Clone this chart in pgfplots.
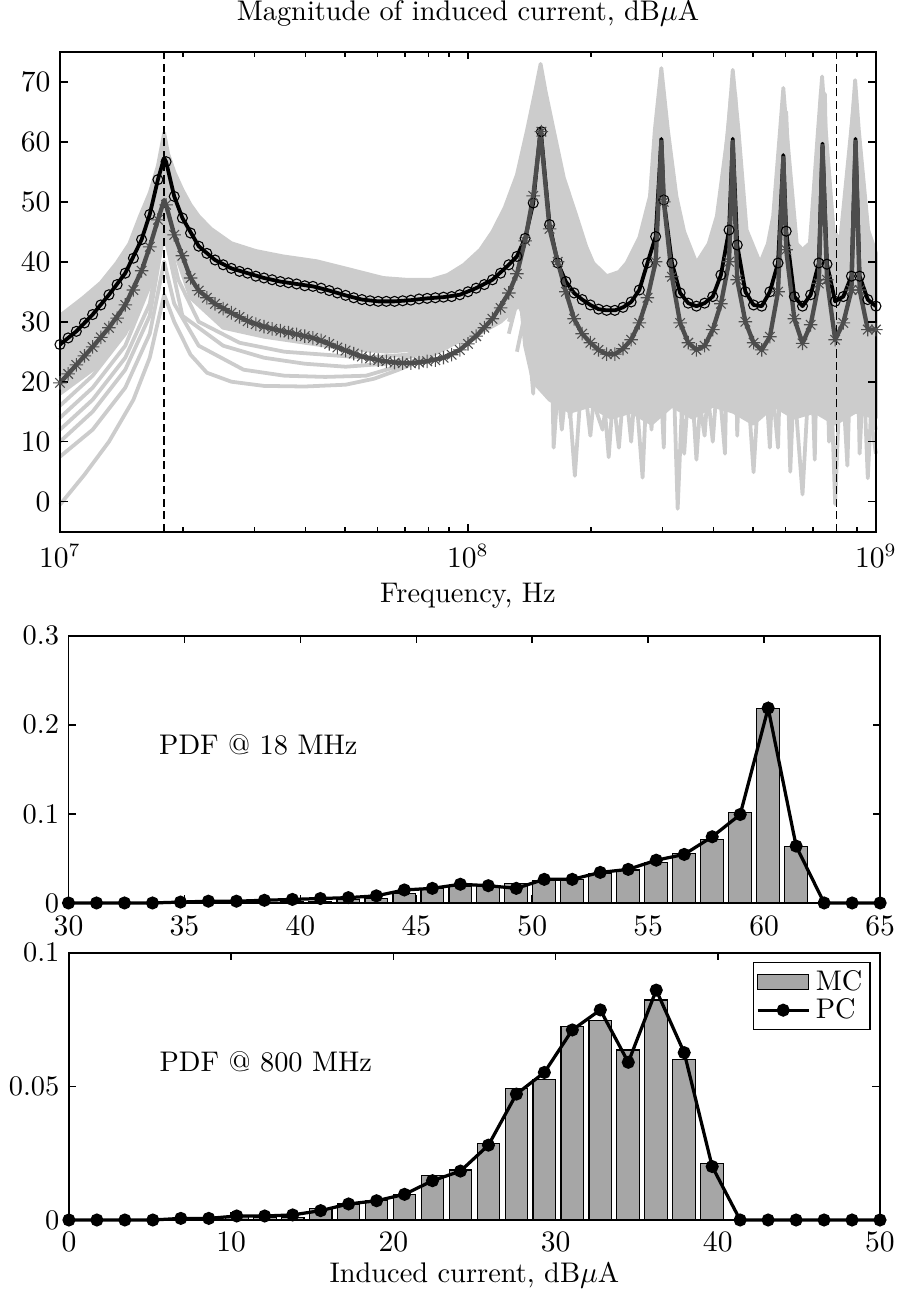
\documentclass[border=0pt]{standalone}
\usepackage{pgfplots}
\pgfplotsset{compat=1.18}
\usepackage{pgfplotstable}
\definecolor{mcgray}{RGB}{204,204,204}
\definecolor{dgray}{RGB}{77,77,77}
\definecolor{bargray}{RGB}{166,166,166}
\newcommand{\ff}{\fontsize{10.5}{12.6}\selectfont}
\pgfdeclareplotmark{mstar}{%
  \pgfpathmoveto{\pgfqpoint{-\pgfplotmarksize}{0pt}}\pgfpathlineto{\pgfqpoint{\pgfplotmarksize}{0pt}}%
  \pgfpathmoveto{\pgfqpoint{0pt}{-\pgfplotmarksize}}\pgfpathlineto{\pgfqpoint{0pt}{\pgfplotmarksize}}%
  \pgfpathmoveto{\pgfqpoint{-0.7071\pgfplotmarksize}{-0.7071\pgfplotmarksize}}\pgfpathlineto{\pgfqpoint{0.7071\pgfplotmarksize}{0.7071\pgfplotmarksize}}%
  \pgfpathmoveto{\pgfqpoint{-0.7071\pgfplotmarksize}{0.7071\pgfplotmarksize}}\pgfpathlineto{\pgfqpoint{0.7071\pgfplotmarksize}{-0.7071\pgfplotmarksize}}%
  \pgfusepathqstroke}
\pgfplotsset{mystyle/.style={scale only axis, tick align=inside,
  axis line style={line width=0.7pt}, every tick/.style={black,line width=0.6pt},
  major tick length=2.8pt, minor tick length=1.8pt, clip=false,
  font=\ff, tick label style={font=\ff}, label style={font=\ff}, title style={font=\ff}},
  gcurve/.style={mcgray, line width=1.4pt, line join=round, no marks},
  mclegend/.style={legend image code/.code={\draw[fill=bargray, draw=black, line width=0.4pt] (0pt,-2.7pt) rectangle (19pt,2.7pt);}},
  pclegend/.style={legend image code/.code={\draw[black, line width=1.2pt] (0pt,0pt) -- (19pt,0pt); \fill[black] (9.5pt,0pt) circle (1.8pt);}}}

% black (circle) markers: x = log10(f)
\pgfplotstableread{
x y
7.00 26.2
7.02 27.3
7.04 28.4
7.06 29.8
7.08 31.2
7.10 32.8
7.12 34.5
7.14 36.2
7.16 38.1
7.18 40.6
7.20 43.7
7.22 47.9
7.24 53.7
7.26 56.7
7.28 50.9
7.30 47.3
7.32 44.8
7.34 42.6
7.36 41.4
7.38 40.3
7.40 39.5
7.42 38.9
7.44 38.4
7.46 38.1
7.48 37.6
7.50 37.3
7.52 37.0
7.54 36.7
7.56 36.5
7.58 36.3
7.60 36.0
7.62 35.9
7.64 35.6
7.66 35.2
7.68 34.8
7.70 34.4
7.72 34.0
7.74 33.7
7.76 33.5
7.78 33.4
7.80 33.4
7.82 33.4
7.84 33.5
7.86 33.6
7.88 33.8
7.90 33.9
7.92 34.0
7.94 34.1
7.96 34.2
7.98 34.5
8.00 35.0
8.02 35.6
8.04 36.2
8.06 37.0
8.08 38.1
8.10 39.5
8.12 40.9
8.14 43.9
8.16 49.8
8.18 61.7
8.20 46.2
8.22 39.8
8.24 36.7
8.26 34.8
8.28 33.7
8.30 32.8
8.32 32.1
8.34 31.9
8.36 31.9
8.38 32.4
8.40 33.3
8.42 35.3
8.44 39.8
8.46 44.2
8.48 50.3
8.50 39.8
8.52 34.8
8.54 33.1
8.56 32.6
8.58 33.1
8.60 34.2
8.62 37.8
8.64 45.3
8.66 42.8
8.68 35.0
8.70 32.8
8.72 32.6
8.74 35.0
8.76 39.8
8.78 45.1
8.80 34.2
8.82 32.6
8.84 34.5
8.86 39.8
8.88 39.6
8.90 33.4
8.92 34.2
8.94 37.6
8.96 37.6
8.98 33.7
9.00 32.6
}\blackmk

% black line (markers plus resonance tips)
\pgfplotstableread{
x y
7.00 26.2
7.04 28.4
7.08 31.2
7.12 34.5
7.16 38.1
7.20 43.7
7.22 47.9
7.24 53.7
7.2553 57.3
7.26 56.7
7.28 50.9
7.30 47.3
7.34 42.6
7.38 40.3
7.42 38.9
7.46 38.1
7.50 37.3
7.54 36.7
7.58 36.3
7.62 35.9
7.66 35.2
7.70 34.4
7.74 33.7
7.78 33.4
7.82 33.4
7.86 33.6
7.90 33.9
7.94 34.1
7.98 34.5
8.02 35.6
8.06 37.0
8.10 39.5
8.12 40.9
8.14 43.9
8.16 49.8
8.178 62.2
8.20 46.2
8.22 39.8
8.24 36.7
8.26 34.8
8.28 33.7
8.30 32.8
8.32 32.1
8.34 31.9
8.36 31.9
8.38 32.4
8.40 33.3
8.42 35.3
8.44 39.8
8.46 44.2
8.474 60.5
8.48 50.3
8.50 39.8
8.52 34.8
8.54 33.1
8.56 32.6
8.58 33.1
8.60 34.2
8.62 37.8
8.64 45.3
8.649 60.5
8.66 42.8
8.68 35.0
8.70 32.8
8.72 32.6
8.74 35.0
8.76 39.8
8.773 57.8
8.78 45.1
8.80 34.2
8.82 32.6
8.84 34.5
8.86 39.8
8.869 59.7
8.88 39.6
8.90 33.4
8.92 34.2
8.94 37.6
8.95 60.5
8.96 37.6
8.98 33.7
9.00 32.6
}\blackln

% dark grey (asterisk) markers
\pgfplotstableread{
x y
7.00 19.8
7.02 21.3
7.04 22.8
7.06 24.3
7.08 25.8
7.10 27.4
7.12 29.0
7.14 30.6
7.16 32.8
7.18 35.3
7.20 38.5
7.22 42.5
7.24 47.0
7.26 49.5
7.28 44.5
7.30 41.0
7.32 37.3
7.34 35.2
7.36 34.0
7.38 33.0
7.40 32.2
7.42 31.5
7.44 30.8
7.46 30.1
7.48 29.6
7.50 29.2
7.52 28.8
7.54 28.5
7.56 28.2
7.58 27.9
7.60 27.6
7.62 27.3
7.64 26.9
7.66 26.3
7.68 25.7
7.70 25.2
7.72 24.7
7.74 24.2
7.76 23.9
7.78 23.6
7.80 23.4
7.82 23.2
7.84 23.1
7.86 23.1
7.88 23.2
7.90 23.4
7.92 23.6
7.94 24.0
7.96 24.5
7.98 25.3
8.00 26.3
8.02 27.6
8.04 29.0
8.06 30.5
8.08 32.3
8.10 34.8
8.12 38.0
8.14 43.5
8.16 51.0
8.18 61.7
8.20 45.5
8.22 40.0
8.24 35.0
8.26 30.5
8.28 28.0
8.30 26.5
8.32 25.3
8.34 24.6
8.36 24.6
8.38 25.5
8.40 27.0
8.42 29.8
8.44 34.0
8.46 40.0
8.48 50.0
8.50 37.5
8.52 29.8
8.54 26.5
8.56 25.3
8.58 26.0
8.60 28.7
8.62 33.0
8.64 40.0
8.66 37.0
8.68 30.0
8.70 26.5
8.72 25.3
8.74 27.5
8.76 35.0
8.78 42.0
8.80 30.5
8.82 26.4
8.84 29.5
8.86 36.4
8.88 37.0
8.90 27.0
8.92 29.8
8.94 35.3
8.96 35.3
8.98 28.7
9.00 28.7
}\dgraymk

\pgfplotstableread{
x y
7.00 19.8
7.04 22.8
7.08 25.8
7.12 29.0
7.16 32.8
7.20 38.5
7.22 42.5
7.24 47.0
7.2553 50.3
7.26 49.5
7.28 44.5
7.30 41.0
7.32 37.3
7.34 35.2
7.38 33.0
7.42 31.5
7.46 30.1
7.50 29.2
7.54 28.5
7.58 27.9
7.62 27.3
7.66 26.3
7.70 25.2
7.74 24.2
7.78 23.6
7.82 23.2
7.86 23.1
7.90 23.4
7.94 24.0
7.98 25.3
8.02 27.6
8.06 30.5
8.10 34.8
8.12 38.0
8.14 43.5
8.16 51.0
8.178 61.5
8.20 45.5
8.22 40.0
8.24 35.0
8.26 30.5
8.28 28.0
8.30 26.5
8.32 25.3
8.34 24.6
8.36 24.6
8.38 25.5
8.40 27.0
8.42 29.8
8.44 34.0
8.46 40.0
8.474 60.0
8.48 50.0
8.50 37.5
8.52 29.8
8.54 26.5
8.56 25.3
8.58 26.0
8.60 28.7
8.62 33.0
8.64 40.0
8.649 60.0
8.66 37.0
8.68 30.0
8.70 26.5
8.72 25.3
8.74 27.5
8.76 35.0
8.773 57.3
8.78 42.0
8.80 30.5
8.82 26.4
8.84 29.5
8.86 36.4
8.869 59.3
8.88 37.0
8.90 27.0
8.92 29.8
8.94 35.3
8.95 60.0
8.96 35.3
8.98 28.7
9.00 28.7
}\dgrayln

\pgfplotstableread{
x pc
30.000 0
31.207 0
32.414 0
33.621 0
34.828 0.001
36.034 0.002
37.241 0.002
38.448 0.003
39.655 0.004
40.862 0.005
42.069 0.006
43.276 0.008
44.483 0.0146
45.690 0.0164
46.897 0.021
48.103 0.0194
49.310 0.0164
50.517 0.0265
51.724 0.0265
52.931 0.0343
54.138 0.0377
55.345 0.048
56.552 0.0545
57.759 0.0743
58.966 0.0993
60.172 0.2187
61.379 0.0638
62.586 0
63.793 0
65.000 0
}\pcA

\pgfplotstableread{
x mc
37.241 0.0008
38.448 0.0010
39.655 0.0012
40.862 0.002
42.069 0.004
43.276 0.005
44.483 0.011
45.690 0.0165
46.897 0.018
48.103 0.018
49.310 0.022
50.517 0.025
51.724 0.0265
52.931 0.0332
54.138 0.037
55.345 0.0455
56.552 0.0556
57.759 0.0713
58.966 0.102
60.172 0.218
61.379 0.063
}\mcA

\pgfplotstableread{
x pc
0.000 0
1.724 0
3.448 0
5.172 0
6.897 0.0006
8.621 0.0006
10.345 0.0015
12.069 0.0015
13.793 0.0019
15.517 0.0035
17.241 0.006
18.966 0.0072
20.690 0.0096
22.414 0.0147
24.138 0.0183
25.862 0.028
27.586 0.0471
29.310 0.0552
31.034 0.0711
32.759 0.0786
34.483 0.059
36.207 0.086
37.931 0.0626
39.655 0.020
41.379 0
43.103 0
44.828 0
46.552 0
48.276 0
50.000 0
}\pcB

\pgfplotstableread{
x mc
8.621 0.0005
10.345 0.0012
12.069 0.0010
13.793 0.0010
15.517 0.0044
17.241 0.006
18.966 0.0072
20.690 0.0097
22.414 0.0165
24.138 0.0187
25.862 0.0287
27.586 0.0493
29.310 0.0526
31.034 0.0723
32.759 0.0748
34.483 0.0636
36.207 0.0823
37.931 0.0602
39.655 0.0212
}\mcB

\begin{document}
\begin{tikzpicture}
\useasboundingbox (0,0) rectangle (332.26pt,477.3pt);

% ---------------- top axis ----------------
\begin{axis}[mystyle, axis on top,
  at={(22.2pt,280.6pt)}, anchor=south west,
  width=301.9pt, height=177.5pt,
  xmin=7, xmax=9, ymin=-5, ymax=75,
  xtick={7,8,9}, xticklabels={$10^{7}$,$10^{8}$,$10^{9}$},
  minor xtick={7.30103,7.47712,7.60206,7.69897,7.77815,7.84510,7.90309,7.95424,8.30103,8.47712,8.60206,8.69897,8.77815,8.84510,8.90309,8.95424},
  ytick={0,10,...,70},
  xticklabel style={yshift=-1.2pt},
  xlabel style={yshift=1.2pt},
  title={Magnitude of induced current, dB$\mu$A},
  xlabel={Frequency, Hz},
]
% dense band of Monte Carlo samples
\addplot[fill=mcgray, draw=mcgray, line width=1.4pt, line join=round] coordinates {
(7.000,31)(7.057,34)(7.10,36.5)(7.139,39.8)(7.17,43)(7.196,47.6)(7.22,51.5)(7.24,56)(7.2553,61.5)(7.265,58)(7.28,55)(7.30,52)(7.32,49.5)(7.34,47.6)(7.37,45.5)(7.42,43.1)(7.48,41.8)(7.547,40.9)(7.629,40.1)(7.711,38.7)(7.792,37.3)(7.85,37)(7.91,37)(7.95,37.8)(7.99,39.5)(8.03,42)(8.06,45)(8.09,49)(8.12,54.5)(8.145,62)(8.165,68.5)(8.178,73)(8.19,68.5)(8.21,62)(8.235,54)(8.266,47.6)(8.29,42.5)(8.307,39.8)(8.34,37.6)(8.37,38.3)(8.389,39.8)(8.42,44)(8.446,50.9)(8.458,62)(8.474,72.3)(8.49,62)(8.511,50.9)(8.53,45)(8.56,39.8)(8.59,43)(8.61,47.6)(8.638,62)(8.649,72)(8.663,62)(8.683,45.3)(8.716,39.8)(8.735,43)(8.748,47.6)(8.765,62)(8.773,69)(8.781,62)(8.806,43)(8.82,42)(8.838,43.1)(8.858,62)(8.868,70.9)(8.877,62)(8.896,45.3)(8.92,42.6)(8.94,62)(8.949,70.3)(8.958,62)(8.981,45.3)(9.000,41.5)
(9.0,14)(8.95,15)(8.90,13)(8.85,15)(8.80,14)(8.75,16)(8.70,13)(8.65,15)(8.60,16)(8.55,14)(8.50,16)(8.45,13)(8.40,15)(8.35,14)(8.30,16)(8.25,15)(8.20,17)(8.16,20)(8.14,26)(8.13,33)(8.08,30)(8.00,27)(7.90,25.5)(7.80,25)(7.70,25.5)(7.60,26.5)(7.50,27.5)(7.40,29)(7.32,34)(7.28,42)(7.2553,46)(7.23,38)(7.18,30)(7.10,23)(7.000,18)};
% individual Monte Carlo samples
\addplot[gcurve] coordinates {(7.00,-0.5)(7.06,4.5)(7.12,10)(7.18,17)(7.22,24)(7.2553,34.5)(7.28,30)(7.32,24.5)(7.36,21.5)(7.42,20)(7.50,19.3)(7.60,19.2)(7.70,19.5)(7.77,20.5)(7.83,22)(7.90,24)(7.97,26.5)(8.05,30)(8.11,35)(8.15,42)(8.17,50)(8.19,40)(8.22,30)(8.245,20)(8.262,4.3)(8.28,22)(8.32,26)(8.38,24)(8.43,32)(8.46,45)(8.48,52)(8.50,30)(8.514,-1.2)(8.53,25)(8.58,24)(8.62,30)(8.645,50)(8.66,35)(8.69,22)(8.74,25)(8.77,45)(8.79,28)(8.82,1.2)(8.84,26)(8.865,50)(8.885,28)(8.92,24)(8.95,55)(8.97,30)(9.00,22)};
\addplot[gcurve] coordinates {(7.00,7.5)(7.08,12)(7.16,19)(7.22,28)(7.2553,40)(7.28,33)(7.34,26)(7.45,22)(7.55,21)(7.65,20.8)(7.75,21)(7.85,23)(7.95,26)(8.05,30)(8.13,36)(8.16,45)(8.175,58)(8.19,45)(8.205,25)(8.21,9)(8.225,24)(8.26,22)(8.30,24)(8.37,22)(8.41,20)(8.428,4)(8.445,30)(8.46,50)(8.475,60)(8.49,45)(8.52,28)(8.56,22)(8.60,26)(8.64,50)(8.652,62)(8.665,42)(8.685,20)(8.70,4.9)(8.715,22)(8.74,28)(8.765,52)(8.775,60)(8.79,35)(8.83,26)(8.862,58)(8.875,40)(8.90,25)(8.93,20)(8.945,45)(8.955,62)(8.97,35)(9.00,28)};
\addplot[gcurve] coordinates {(7.00,10)(7.08,15)(7.16,22)(7.22,31)(7.2553,45)(7.30,31)(7.40,26)(7.50,24)(7.60,23)(7.70,22.5)(7.80,23)(7.90,25)(8.00,28)(8.08,31)(8.13,37)(8.165,52)(8.18,64)(8.20,48)(8.23,30)(8.28,22)(8.33,20)(8.345,7.4)(8.36,22)(8.40,28)(8.44,38)(8.465,55)(8.48,66)(8.50,45)(8.515,25)(8.53,8)(8.545,24)(8.60,28)(8.64,52)(8.655,68)(8.67,45)(8.70,28)(8.72,22)(8.75,38)(8.77,58)(8.78,65)(8.795,40)(8.82,28)(8.85,35)(8.866,60)(8.875,68)(8.885,30)(8.90,-0.4)(8.915,26)(8.945,55)(8.95,66)(8.965,40)(9.00,30)};
\addplot[gcurve] coordinates {(7.00,12)(7.08,17)(7.16,24)(7.22,33)(7.2553,47)(7.29,37)(7.34,30)(7.44,26.5)(7.55,25)(7.65,24.5)(7.75,24)(7.85,24.5)(7.95,26.5)(8.04,29)(8.10,32)(8.15,42)(8.17,60)(8.185,50)(8.21,33)(8.25,24)(8.285,20)(8.30,11)(8.315,22)(8.36,26)(8.41,30)(8.455,40)(8.47,58)(8.485,45)(8.51,30)(8.55,24)(8.585,20)(8.60,10)(8.615,24)(8.63,40)(8.645,62)(8.66,40)(8.68,28)(8.72,24)(8.76,50)(8.772,58)(8.785,35)(8.81,28)(8.84,30)(8.86,52)(8.87,62)(8.885,35)(8.91,30)(8.94,45)(8.952,62)(8.965,30)(8.98,3.9)(8.99,18)(9.00,20)};
\addplot[gcurve] coordinates {(7.00,14)(7.08,19)(7.16,26)(7.22,36)(7.2553,50)(7.29,40)(7.34,33)(7.44,29)(7.55,27.5)(7.65,26.5)(7.75,26)(7.85,26)(7.95,27)(8.04,29.5)(8.10,34)(8.15,48)(8.18,67)(8.20,50)(8.24,32)(8.28,24)(8.33,22)(8.385,20)(8.40,10)(8.415,24)(8.44,40)(8.47,62)(8.49,48)(8.52,32)(8.56,26)(8.61,32)(8.64,55)(8.65,66)(8.66,48)(8.69,32)(8.72,27)(8.745,20)(8.76,9)(8.772,40)(8.78,62)(8.79,52)(8.80,32)(8.83,28)(8.86,45)(8.87,66)(8.88,50)(8.90,33)(8.93,26)(8.945,40)(8.95,68)(8.96,45)(8.98,33)(9.00,30)};
\addplot[gcurve] coordinates {(7.00,16)(7.08,21)(7.16,28)(7.22,38)(7.2553,52)(7.29,42)(7.34,35)(7.44,31)(7.55,29.5)(7.65,28.5)(7.75,28)(7.85,28)(7.95,28.5)(8.04,31)(8.10,36)(8.145,30)(8.16,18)(8.17,45)(8.178,70)(8.20,52)(8.24,33)(8.29,26)(8.33,24)(8.38,30)(8.435,25)(8.45,12)(8.46,42)(8.47,68)(8.49,50)(8.52,33)(8.55,27)(8.60,35)(8.645,68)(8.655,30)(8.66,11)(8.67,34)(8.72,30)(8.76,45)(8.773,66)(8.79,45)(8.83,35)(8.85,40)(8.865,68)(8.875,40)(8.885,10)(8.90,35)(8.948,68)(8.96,50)(8.98,38)(9.00,36)};
\addplot[gcurve] coordinates {(8.10,30)(8.15,40)(8.17,50)(8.19,40)(8.215,24)(8.23,12)(8.245,22)(8.30,24)(8.355,18)(8.37,9)(8.385,22)(8.45,45)(8.475,55)(8.50,40)(8.53,24)(8.55,18)(8.56,7)(8.575,22)(8.60,26)(8.64,48)(8.655,58)(8.67,40)(8.70,26)(8.73,20)(8.74,9)(8.75,28)(8.773,55)(8.79,38)(8.82,22)(8.86,44)(8.87,55)(8.89,35)(8.92,18)(8.93,6)(8.94,30)(8.95,50)(8.97,30)(9.00,15)};
\addplot[gcurve] coordinates {(8.10,28)(8.16,44)(8.18,56)(8.20,42)(8.23,26)(8.25,14)(8.27,22)(8.33,26)(8.37,20)(8.40,25)(8.45,40)(8.465,30)(8.48,9)(8.49,42)(8.50,42)(8.54,30)(8.58,22)(8.615,20)(8.63,8)(8.645,60)(8.665,45)(8.70,30)(8.73,22)(8.76,40)(8.775,60)(8.79,40)(8.83,20)(8.845,18)(8.85,7)(8.86,40)(8.868,62)(8.88,40)(8.91,30)(8.945,58)(8.96,40)(8.98,20)(9.00,12)};
\addplot[gcurve] coordinates {(8.12,25)(8.16,38)(8.175,45)(8.19,35)(8.21,22)(8.25,20)(8.30,18)(8.33,12)(8.35,22)(8.38,24)(8.42,18)(8.44,28)(8.47,50)(8.49,38)(8.52,25)(8.565,18)(8.58,11)(8.595,25)(8.63,40)(8.648,55)(8.66,38)(8.68,18)(8.71,26)(8.76,40)(8.772,52)(8.78,30)(8.79,5)(8.80,22)(8.83,26)(8.865,48)(8.88,30)(8.90,20)(8.93,28)(8.95,52)(8.955,25)(8.96,8)(8.97,22)(9.00,8)};
% dashed markers of the two frequencies
\addplot[black, dash pattern=on 3pt off 1.6pt, line width=0.5pt] coordinates {(7.2553,-5)(7.2553,75)};
\addplot[black, dash pattern=on 3pt off 1.6pt, line width=0.5pt] coordinates {(8.90309,-5)(8.90309,75)};
% mean curves
\addplot[black, line width=1.4pt, line join=round, no marks] table[x=x,y=y] {\blackln};
\addplot[only marks, mark=o, mark size=1.85pt, mark options={black, line width=0.4pt}] table[x=x,y=y] {\blackmk};
\addplot[dgray, line width=1.6pt, line join=round, no marks] table[x=x,y=y] {\dgrayln};
\addplot[only marks, mark=mstar, mark size=2.5pt, mark options={dgray, line width=0.4pt}] table[x=x,y=y] {\dgraymk};
\end{axis}

% ---------------- middle axis ----------------
\begin{axis}[mystyle,
  at={(25.35pt,143.2pt)}, anchor=south west,
  width=300.3pt, height=98.9pt,
  xmin=30, xmax=65, ymin=0, ymax=0.3,
  xtick={30,35,...,65},
  xticklabel style={yshift=-1.6pt},
  ytick={0,0.1,0.2,0.3}, yticklabels={0,0.1,0.2,0.3},
]
\addplot[ybar, bar width=0.98, bar shift=0pt, fill=bargray, draw=black, line width=0.4pt] table[x=x,y=mc] {\mcA};
\addplot[black, line width=1.2pt, mark=*, mark size=1.8pt] table[x=x,y=pc] {\pcA};
\node[anchor=west, font=\ff] at (axis cs:33.5,0.177) {PDF @ 18 MHz};
\end{axis}

% ---------------- bottom axis ----------------
\begin{axis}[mystyle,
  at={(25.5pt,25.9pt)}, anchor=south west,
  width=300.1pt, height=98.9pt,
  xmin=0, xmax=50, ymin=0, ymax=0.1,
  xtick={0,10,...,50},
  xticklabel style={yshift=-1.2pt},
  xlabel style={yshift=3.2pt},
  ytick={0,0.05,0.1}, yticklabels={0,0.05,0.1},
  xlabel={Induced current, dB$\mu$A},
  legend style={at={(0.9885,0.966)}, anchor=north east, font=\ff,
    inner sep=0.8pt, row sep=-2.5pt, line width=0.5pt, cells={anchor=west}},
]
\addplot[ybar, bar width=1.40, bar shift=0pt, fill=bargray, draw=black, line width=0.4pt, mclegend] table[x=x,y=mc] {\mcB};
\addlegendentry{MC}
\addplot[black, line width=1.2pt, mark=*, mark size=1.8pt, pclegend] table[x=x,y=pc] {\pcB};
\addlegendentry{PC}
\node[anchor=west, font=\ff] at (axis cs:5.0,0.0592) {PDF @ 800 MHz};
\end{axis}
\end{tikzpicture}
\end{document}
